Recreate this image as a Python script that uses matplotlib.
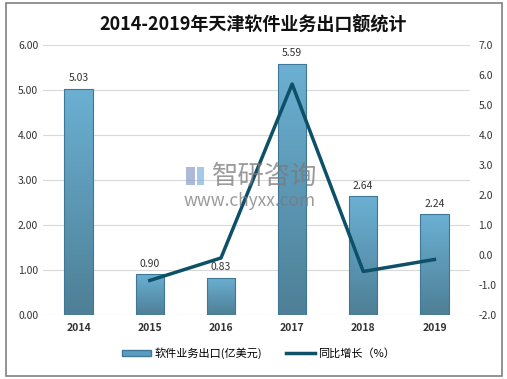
import numpy as np
import matplotlib.pyplot as plt
from matplotlib.patches import Rectangle
from matplotlib.lines import Line2D
from matplotlib.colors import LinearSegmentedColormap

plt.rcParams['font.family'] = ['Noto Sans CJK SC', 'DejaVu Sans']

years = ['2014', '2015', '2016', '2017', '2018', '2019']
export = [5.03, 0.90, 0.83, 5.59, 2.64, 2.24]
growth_years = ['2015', '2016', '2017', '2018', '2019']
growth = [-0.85, -0.1, 5.7, -0.55, -0.15]

fig = plt.figure(figsize=(5.07, 3.79), dpi=100)
fig.patches.append(Rectangle((0.012, 0.008), 0.978, 0.984, transform=fig.transFigure,
                             fill=False, edgecolor='#808080', linewidth=1.2))
ax = fig.add_axes([0.085, 0.169, 0.842, 0.712])
x = range(len(years))
bars = ax.bar(x, export, width=0.4, color='none', edgecolor='#3f7896', linewidth=0.8, zorder=3)

# gradient fill, lighter at top
cmap = LinearSegmentedColormap.from_list('bar', ['#4e7f96', '#6bb0d3'])
grad = np.linspace(0, 1, 256).reshape(-1, 1)
for b in bars:
    x0, w, h = b.get_x(), b.get_width(), b.get_height()
    im = ax.imshow(grad, extent=[x0, x0 + w, 0, h], origin='lower', cmap=cmap,
                   aspect='auto', zorder=2)
    im.set_clip_path(b)

for xi, v in zip(x, export):
    ax.text(xi, v + 0.12, '%.2f' % v, ha='center', va='bottom', fontsize=7.5, color='#333333')
ax.set_ylim(0, 6)
ax.set_yticks([0, 1, 2, 3, 4, 5, 6])
ax.set_yticklabels(['%.2f' % t for t in ax.get_yticks()])
ax.set_xlim(-0.5, 5.5)
ax.set_xticks(list(x))
ax.set_xticklabels(years, fontweight='bold', fontsize=8.5)
ax.grid(axis='y', color='#d9d9d9', linewidth=0.8, zorder=0)
for s in ax.spines.values():
    s.set_visible(False)
ax.tick_params(length=0, labelsize=7.5, colors='#333333')
ax.tick_params(axis='x', pad=6)

ax2 = ax.twinx()
gx = [years.index(y) for y in growth_years]
ax2.plot(gx, growth, color='#0e5068', linewidth=2.5, zorder=3)
ax2.set_ylim(-2, 7)
ax2.set_yticks(range(-2, 8))
ax2.set_yticklabels(['%.1f' % t for t in range(-2, 8)])
for s in ax2.spines.values():
    s.set_visible(False)
ax2.tick_params(length=0, labelsize=7.5, colors='#333333', pad=6)

fig.text(0.5, 0.933, '2014-2019年天津软件业务出口额统计', ha='center', va='center',
         fontsize=13, fontweight='bold', color='#111111')

# watermark
fig.patches.append(Rectangle((0.367, 0.512), 0.018, 0.048, transform=fig.transFigure,
                             facecolor='#8a9cc8', alpha=0.7, edgecolor='none'))
fig.patches.append(Rectangle((0.388, 0.512), 0.014, 0.048, transform=fig.transFigure,
                             facecolor='#7fb3df', alpha=0.7, edgecolor='none'))
fig.text(0.418, 0.535, '智研咨询', fontsize=19, color='#7a7a7a', alpha=0.75, va='center')
fig.text(0.362, 0.470, 'www.chyxx.com', fontsize=12.5, color='#7a7a7a', alpha=0.75, va='center')

handles = [Rectangle((0, 0), 1, 1, facecolor='#5b9dc0', edgecolor='#3f7896'),
           Line2D([0], [0], color='#0e5068', linewidth=2.5)]
fig.legend(handles, ['软件业务出口(亿美元)', '同比增长（%）'], loc='center', ncol=2,
           bbox_to_anchor=(0.51, 0.068), frameon=False, fontsize=8, handlelength=2.6,
           handleheight=0.5, handletextpad=0.3, columnspacing=2.2)

fig.savefig('out.png', dpi=100)
